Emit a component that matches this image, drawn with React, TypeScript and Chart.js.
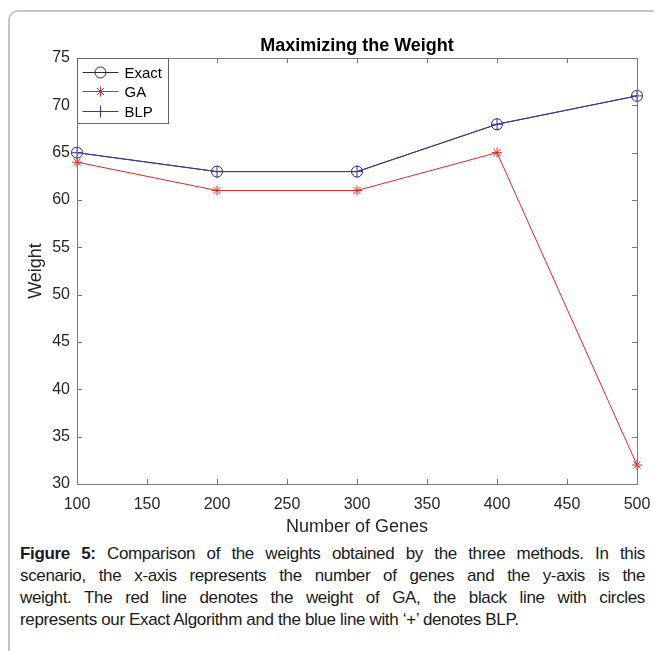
import React, { useEffect, useRef } from "react";
import { Chart, registerables } from "chart.js";

Chart.register(...registerables);

const genes = [100, 200, 300, 400, 500];
const exactWeights = [65, 63, 63, 68, 71];
const gaWeights = [64, 61, 61, 65, 32];
const blpWeights = [65, 63, 63, 68, 71];
const seriesNames = ["Exact", "GA", "BLP"];
const xRange = { min: 100, max: 500, step: 50 };
const yRange = { min: 30, max: 75, step: 5 };
const chartTitle = "Maximizing the Weight";
const xTitle = "Number of Genes";
const yTitle = "Weight";
const captionLines = [
  "Comparison of the weights obtained by the three methods. In this",
  "scenario, the x-axis represents the number of genes and the y-axis is the",
  "weight. The red line denotes the weight of GA, the black line with circles",
  "represents our Exact Algorithm and the blue line with ‘+’ denotes BLP.",
];

const FONT = 'Arial, "Liberation Sans", Helvetica, sans-serif';
const EXACT_COLOR = "#2b2b55";
const GA_COLOR = "#e52424";
const BLP_COLOR = "#3535b0";
const AXIS_COLOR = "#7a7a7a";
const TEXT_COLOR = "#262626";

function drawMarker(ctx: CanvasRenderingContext2D, kind: string, x: number, y: number, r: number, color: string) {
  ctx.save();
  ctx.strokeStyle = color;
  ctx.lineWidth = 1;
  ctx.beginPath();
  if (kind === "circle") {
    ctx.arc(x, y, r, 0, Math.PI * 2);
  } else if (kind === "cross") {
    ctx.moveTo(x - r, y);
    ctx.lineTo(x + r, y);
    ctx.moveTo(x, y - r);
    ctx.lineTo(x, y + r);
  } else {
    ctx.moveTo(x - r, y);
    ctx.lineTo(x + r, y);
    ctx.moveTo(x, y - r);
    ctx.lineTo(x, y + r);
    const d = r * 0.707;
    ctx.moveTo(x - d, y - d);
    ctx.lineTo(x + d, y + d);
    ctx.moveTo(x - d, y + d);
    ctx.lineTo(x + d, y - d);
  }
  ctx.stroke();
  ctx.restore();
}

const framePlugin = {
  id: "matlabFrame",
  afterDraw(chart: any) {
    const { ctx, chartArea: a, scales } = chart;
    const xs = scales.x;
    const ys = scales.y;
    ctx.save();
    ctx.strokeStyle = AXIS_COLOR;
    ctx.lineWidth = 1;
    ctx.strokeRect(Math.round(a.left) + 0.5, Math.round(a.top) + 0.5, Math.round(a.right - a.left), Math.round(a.bottom - a.top));
    const tl = 5;
    ctx.beginPath();
    xs.ticks.forEach((t: any) => {
      const px = Math.round(xs.getPixelForValue(t.value)) + 0.5;
      ctx.moveTo(px, a.bottom);
      ctx.lineTo(px, a.bottom - tl);
      ctx.moveTo(px, a.top);
      ctx.lineTo(px, a.top + tl);
    });
    ys.ticks.forEach((t: any) => {
      const py = Math.round(ys.getPixelForValue(t.value)) + 0.5;
      ctx.moveTo(a.left, py);
      ctx.lineTo(a.left + tl, py);
      ctx.moveTo(a.right, py);
      ctx.lineTo(a.right - tl, py);
    });
    ctx.stroke();

    // title
    ctx.fillStyle = "#000";
    ctx.font = `bold 18px ${FONT}`;
    ctx.textAlign = "center";
    ctx.textBaseline = "middle";
    ctx.fillText(chartTitle, (a.left + a.right) / 2, a.top - 12);

    // legend
    const lx = Math.round(a.left) + 0.5;
    const ly = Math.round(a.top) + 0.5;
    const lw = 91;
    const lh = 65;
    ctx.fillStyle = "#fff";
    ctx.fillRect(lx, ly, lw, lh);
    ctx.strokeStyle = "#666";
    ctx.strokeRect(lx, ly, lw, lh);
    const rows = [
      { name: seriesNames[0], color: EXACT_COLOR, marker: "circle", r: 5.5 },
      { name: seriesNames[1], color: GA_COLOR, marker: "star", r: 5 },
      { name: seriesNames[2], color: BLP_COLOR, marker: "cross", r: 6 },
    ];
    rows.forEach((row, i) => {
      const y = Math.round(ly + 13 + i * 19.5) + 0.5;
      ctx.strokeStyle = row.color;
      ctx.lineWidth = 1;
      ctx.beginPath();
      ctx.moveTo(lx + 5, y);
      ctx.lineTo(lx + 41, y);
      ctx.stroke();
      drawMarker(ctx, row.marker, lx + 23, y, row.r, row.color);
      ctx.fillStyle = "#000";
      ctx.font = `15px ${FONT}`;
      ctx.textAlign = "left";
      ctx.textBaseline = "middle";
      ctx.fillText(row.name, lx + 47, y + 1);
    });
    ctx.restore();
  },
};

export default function App() {
  const canvasRef = useRef<HTMLCanvasElement | null>(null);

  useEffect(() => {
    document.body.style.overflow = "hidden";
    document.documentElement.style.overflow = "hidden";
    const canvas = canvasRef.current;
    if (!canvas) return;
    const toPts = (vals: number[]) => genes.map((g, i) => ({ x: g, y: vals[i] }));
    const chart = new Chart(canvas, {
      type: "line",
      data: {
        datasets: [
          {
            label: seriesNames[0],
            data: toPts(exactWeights),
            borderColor: EXACT_COLOR,
            borderWidth: 1,
            pointStyle: "circle",
            pointRadius: 5.5,
            pointBorderWidth: 1,
            pointBorderColor: EXACT_COLOR,
            pointBackgroundColor: "rgba(0,0,0,0)",
            tension: 0,
            clip: false,
            order: 2,
          },
          {
            label: seriesNames[1],
            data: toPts(gaWeights),
            borderColor: GA_COLOR,
            borderWidth: 1,
            pointStyle: "star",
            pointRadius: 5,
            pointBorderWidth: 1,
            pointBorderColor: GA_COLOR,
            pointBackgroundColor: GA_COLOR,
            tension: 0,
            clip: false,
            order: 1,
          },
          {
            label: seriesNames[2],
            data: toPts(blpWeights),
            borderColor: BLP_COLOR,
            borderWidth: 1,
            pointStyle: "cross",
            pointRadius: 6,
            pointBorderWidth: 1,
            pointBorderColor: BLP_COLOR,
            tension: 0,
            clip: false,
            order: 0,
          },
        ],
      },
      options: {
        animation: false,
        responsive: false,
        layout: { padding: { top: 46, right: 25, left: 0, bottom: 0 } },
        plugins: {
          legend: { display: false },
          tooltip: { enabled: false },
          title: { display: false },
        },
        scales: {
          x: {
            type: "linear",
            min: xRange.min,
            max: xRange.max,
            ticks: {
              stepSize: xRange.step,
              color: TEXT_COLOR,
              font: { family: FONT, size: 16 },
              padding: 11,
              maxRotation: 0,
            },
            grid: { display: false, drawTicks: false },
            border: { display: false },
            title: {
              display: true,
              text: xTitle,
              color: TEXT_COLOR,
              font: { family: FONT, size: 18 },
              padding: { top: 0, bottom: 4 },
            },
            afterFit: (s: any) => {
              s.height = 58;
            },
          },
          y: {
            type: "linear",
            min: yRange.min,
            max: yRange.max,
            ticks: {
              stepSize: yRange.step,
              color: TEXT_COLOR,
              font: { family: FONT, size: 16 },
              padding: 7,
            },
            grid: { display: false, drawTicks: false },
            border: { display: false },
            title: {
              display: true,
              text: yTitle,
              color: TEXT_COLOR,
              font: { family: FONT, size: 18 },
              padding: { top: 15, bottom: 0 },
            },
            afterFit: (s: any) => {
              s.width = 67;
            },
          },
        },
      },
      plugins: [framePlugin],
    });
    return () => chart.destroy();
  }, []);

  const lineStyle = (last: boolean): React.CSSProperties => ({
    whiteSpace: "nowrap",
    textAlign: last ? "left" : "justify",
    textAlignLast: last ? "left" : "justify",
  });

  return (
    <div
      style={{
        marginTop: 2,
        borderTop: "2px solid #c4c4c4",
        borderLeft: "2px solid #c4c4c4",
        borderTopLeftRadius: 10,
        width: 652,
        height: 639,
        boxSizing: "content-box",
        fontFamily: FONT,
      }}
    >
      <canvas ref={canvasRef} width={652} height={530} style={{ display: "block" }} />
      <div
        style={{
          padding: "1px 17px 0 10px",
          fontSize: 17,
          lineHeight: "22px",
          letterSpacing: "-0.35px",
          color: "#1a1a1a",
        }}
      >
        {captionLines.map((line, i) => (
          <div key={i} style={lineStyle(i === captionLines.length - 1)}>
            {i === 0 ? (
              <>
                <b>Figure 5:</b> {line}
              </>
            ) : (
              line
            )}
          </div>
        ))}
      </div>
    </div>
  );
}
